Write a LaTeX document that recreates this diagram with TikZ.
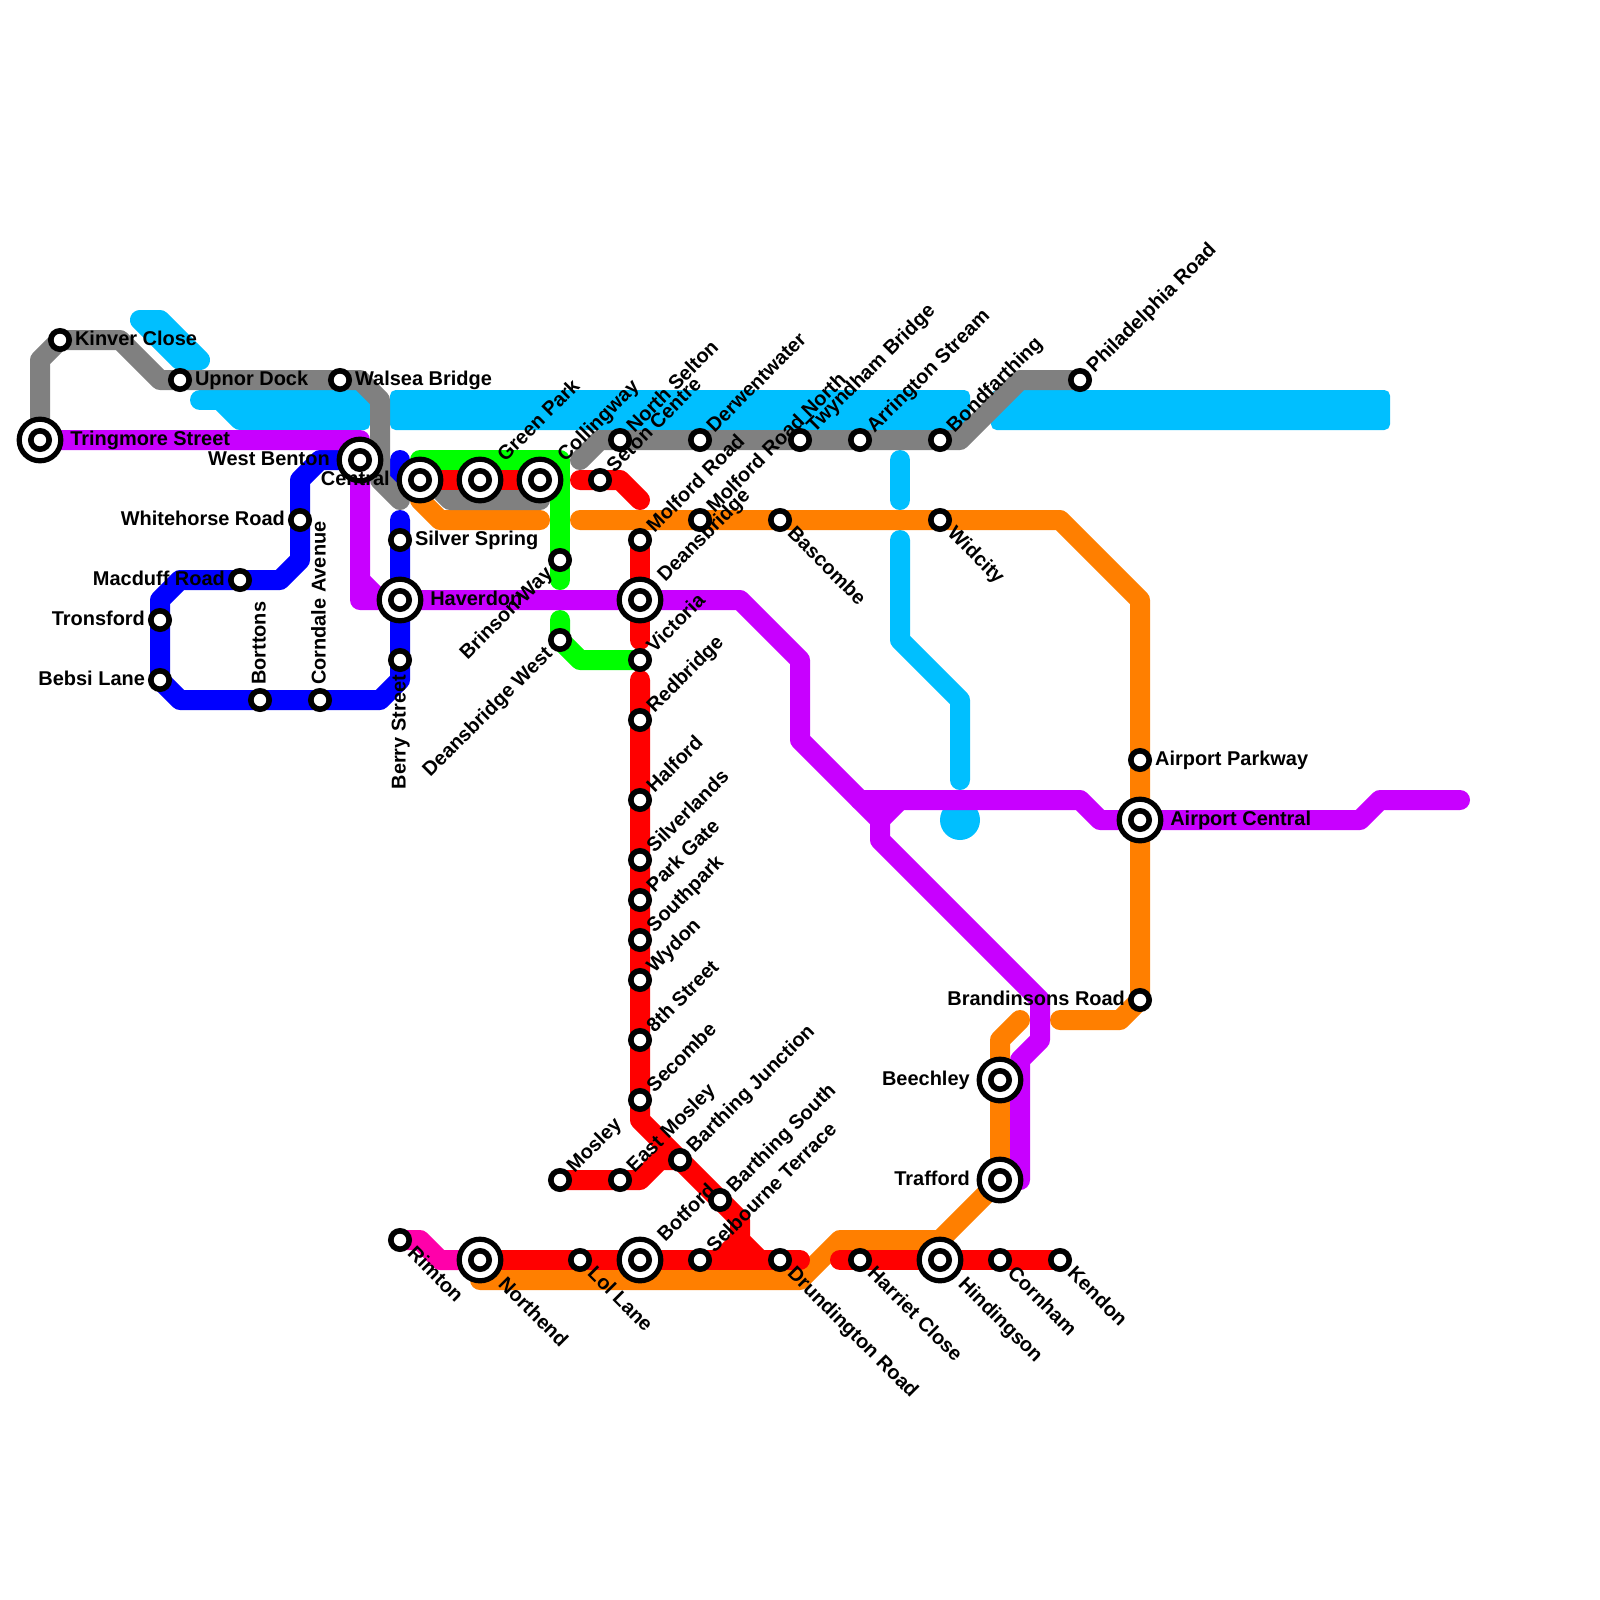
\documentclass[tikz,border=0pt]{standalone}
\usepackage{fontspec}
\setmainfont{Liberation Sans}
\usetikzlibrary{backgrounds}
\definecolor{linecyan}{RGB}{0, 191, 255}
\definecolor{linegray}{RGB}{128, 128, 128}
\definecolor{lineblue}{RGB}{0, 0, 255}
\definecolor{linegreen}{RGB}{0, 255, 0}
\definecolor{linered}{RGB}{255, 0, 0}
\definecolor{lineorange}{RGB}{255, 127, 0}
\definecolor{linepurple}{RGB}{200, 0, 255}
\definecolor{linepink}{RGB}{255, 0, 170}
\tikzset{
  route/.style={line width=0.5cm, line cap=round, line join=round},
  block/.style={fill=linecyan, rounded corners=0.14cm},
  stn/.style={circle, draw=black, fill=white, line width=0.14cm, minimum size=0.46cm, inner sep=0pt},
  stnbig/.style={circle, draw=black, fill=white, line width=0.13cm, minimum size=1.04cm, inner sep=0pt},
  lbl/.style={font=\bfseries\fontsize{14.2}{16}\selectfont, inner sep=0pt, text=black},
  lblr/.style={lbl, anchor=mid west, xshift=0.37cm, yshift=-0.05cm},
  lblrb/.style={lbl, anchor=mid west, xshift=0.75cm, yshift=-0.05cm},
  lbll/.style={lbl, anchor=mid east, xshift=-0.37cm, yshift=-0.05cm},
  lbllb/.style={lbl, anchor=mid east, xshift=-0.75cm, yshift=-0.05cm},
  lblur/.style={lbl, rotate=45, anchor=mid west, xshift=0.37cm, yshift=-0.05cm},
  lblurb/.style={lbl, rotate=45, anchor=mid west, xshift=0.75cm, yshift=-0.05cm},
  lblul/.style={lbl, rotate=45, anchor=mid east, xshift=-0.37cm, yshift=-0.05cm},
  lbldr/.style={lbl, rotate=-45, anchor=mid west, xshift=0.37cm, yshift=-0.05cm},
  lbldrb/.style={lbl, rotate=-45, anchor=mid west, xshift=0.75cm, yshift=-0.05cm},
  lblup/.style={lbl, rotate=90, anchor=mid west, xshift=0.37cm, yshift=-0.05cm},
  lbldn/.style={lbl, rotate=90, anchor=mid east, xshift=-0.37cm, yshift=-0.05cm}
}
\begin{document}
\begin{tikzpicture}[x=0.5cm, y=-0.5cm]
\useasboundingbox (0,0) rectangle (80,80);
% Small stations
\node[stn] (kinver) at (3,17) {};
\node[stn] (upnor) at (9,19) {};
\node[stn] (walsea) at (17,19) {};
\node[stn] (whitehorse) at (15,26) {};
\node[stn] (macduff) at (12,29) {};
\node[stn] (tronsford) at (8,31) {};
\node[stn] (bebsi) at (8,34) {};
\node[stn] (borttons) at (13,35) {};
\node[stn] (corndale) at (16,35) {};
\node[stn] (silverspring) at (20,27) {};
\node[stn] (berry) at (20,33) {};
\node[stn] (brinson) at (28,28) {};
\node[stn] (deanswest) at (28,32) {};
\node[stn] (seton) at (30,24) {};
\node[stn] (northselton) at (31,22) {};
\node[stn] (derwent) at (35,22) {};
\node[stn] (twyndham) at (40,22) {};
\node[stn] (arrington) at (43,22) {};
\node[stn] (bondfarthing) at (47,22) {};
\node[stn] (philadelphia) at (54,19) {};
\node[stn] (molford) at (32,27) {};
\node[stn] (molfordnorth) at (35,26) {};
\node[stn] (bascombe) at (39,26) {};
\node[stn] (widcity) at (47,26) {};
\node[stn] (victoria) at (32,33) {};
\node[stn] (redbridge) at (32,36) {};
\node[stn] (halford) at (32,40) {};
\node[stn] (silverlands) at (32,43) {};
\node[stn] (parkgate) at (32,45) {};
\node[stn] (southpark) at (32,47) {};
\node[stn] (wydon) at (32,49) {};
\node[stn] (eighth) at (32,52) {};
\node[stn] (secombe) at (32,55) {};
\node[stn] (barthingj) at (34,58) {};
\node[stn] (barthings) at (36,60) {};
\node[stn] (mosley) at (28,59) {};
\node[stn] (eastmosley) at (31,59) {};
\node[stn] (rimton) at (20,62) {};
\node[stn] (lollane) at (29,63) {};
\node[stn] (selbourne) at (35,63) {};
\node[stn] (drundington) at (39,63) {};
\node[stn] (harriet) at (43,63) {};
\node[stn] (cornham) at (50,63) {};
\node[stn] (kendon) at (53,63) {};
\node[stn] (brandinsons) at (57,50) {};
\node[stn] (airportpark) at (57,38) {};
% Interchanges
\node[stnbig] (tringmore) at (2,22) {};
\node[stn] (tringmorein) at (tringmore.center) {};
\node[stnbig] (westbenton) at (18,23) {};
\node[stn] (westbentonin) at (westbenton.center) {};
\node[stnbig] (central) at (21,24) {};
\node[stn] (centralin) at (central.center) {};
\node[stnbig] (greenpark) at (24,24) {};
\node[stn] (greenparkin) at (greenpark.center) {};
\node[stnbig] (collingway) at (27,24) {};
\node[stn] (collingwayin) at (collingway.center) {};
\node[stnbig] (haverdon) at (20,30) {};
\node[stn] (haverdonin) at (haverdon.center) {};
\node[stnbig] (deansbridge) at (32,30) {};
\node[stn] (deansbridgein) at (deansbridge.center) {};
\node[stnbig] (northend) at (24,63) {};
\node[stn] (northendin) at (northend.center) {};
\node[stnbig] (botford) at (32,63) {};
\node[stn] (botfordin) at (botford.center) {};
\node[stnbig] (hindingson) at (47,63) {};
\node[stn] (hindingsonin) at (hindingson.center) {};
\node[stnbig] (trafford) at (50,59) {};
\node[stn] (traffordin) at (trafford.center) {};
\node[stnbig] (beechley) at (50,54) {};
\node[stn] (beechleyin) at (beechley.center) {};
\node[stnbig] (airportcentral) at (57,41) {};
\node[stn] (airportcentralin) at (airportcentral.center) {};
% Lines
\begin{scope}[on background layer]
  % Cyan
  \draw[route, linecyan] (7,16) -- (8,16) -- (10,18) -- (9,18) -- cycle;
  \fill[linecyan] (7,16) -- (8,16) -- (10,18) -- (9,18) -- cycle;
  \draw[route, linecyan] (10,20) -- (18,20);
  \draw[route, linecyan] (11,20) -- (12,21) -- (18,21);
  \path[block] (13,19.5) rectangle (18.5,21.5);
  \path[block] (19.5,19.5) rectangle (48.5,21.5);
  \path[block] (49.55,19.5) rectangle (69.5,21.5);
  \draw[route, linecyan] (45,23) -- (45,25);
  \draw[route, linecyan] (45,27) -- (45,32) -- (48,35) -- (48,39);
  \fill[linecyan] (48,41) circle[radius=1];
  % Blue
  \draw[route, lineblue] (westbenton.center) -- (16,23) -- (15,24) -- (whitehorse.center) -- (15,28) -- (14,29) -- (macduff.center) -- (9,29) -- (8,30) -- (tronsford.center) -- (bebsi.center) -- (9,35) -- (borttons.center) -- (corndale.center) -- (19,35) -- (20,34) -- (berry.center) -- (haverdon.center) -- (silverspring.center) -- (20,26);
  \draw[route, lineblue] (20,23) -- (20,24) -- (central.center);
  % Orange
  \draw[route, lineorange] (central.center) -- (21,25) -- (22,26) -- (27,26);
  \draw[route, lineorange] (29,26) -- (molfordnorth.center) -- (bascombe.center) -- (widcity.center) -- (53,26) -- (57,30) -- (airportpark.center) -- (airportcentral.center) -- (brandinsons.center) -- (56,51) -- (53,51);
  \draw[route, lineorange] (51,51) -- (50,52) -- (beechley.center) -- (trafford.center) -- (47,62) -- (42,62) -- (40,64) -- (24,64) -- (northend.center);
  % Gray
  \draw[route, linegray] (tringmore.center) -- (2,18) -- (kinver.center) -- (6,17) -- (8,19) -- (upnor.center) -- (walsea.center) -- (18,19) -- (19,20) -- (19,24) -- (20,25);
  \draw[route, linegray] (central.center) -- (21.5,24) -- (22.5,25) -- (27,25) -- (collingway.center);
  \draw[route, linegray] (29,23) -- (30,22) -- (northselton.center) -- (derwent.center) -- (twyndham.center) -- (arrington.center) -- (bondfarthing.center) -- (48,22) -- (51,19) -- (philadelphia.center);
  % Green
  \draw[route, linegreen] (central.center) -- (21,23) -- (28,23) -- (brinson.center) -- (28,29);
  \draw[route, linegreen] (28,31) -- (deanswest.center) -- (29,33) -- (victoria.center);
  % Red
  \draw[route, linered] (central.center) -- (greenpark.center) -- (collingway.center);
  \draw[route, linered] (29,24) -- (seton.center) -- (31,24) -- (32,25);
  \draw[route, linered] (molford.center) -- (deansbridge.center) -- (32,32);
  \draw[route, linered] (32,34) -- (redbridge.center) -- (halford.center) -- (silverlands.center) -- (parkgate.center) -- (southpark.center) -- (wydon.center) -- (eighth.center) -- (secombe.center) -- (32,56) -- (barthingj.center) -- (barthings.center) -- (37,61) -- (37,62) -- (38,63);
  \draw[route, linered] (37,62) -- (36,63);
  \draw[route, linered] (mosley.center) -- (eastmosley.center) -- (32,59) -- (33,58) -- (barthingj.center);
  \draw[route, linered] (northend.center) -- (lollane.center) -- (botford.center) -- (selbourne.center) -- (drundington.center) -- (40,63);
  \draw[route, linered] (42,63) -- (harriet.center) -- (hindingson.center) -- (cornham.center) -- (kendon.center);
  % Purple
  \draw[route, linepurple] (tringmore.center) -- (18,22) -- (18,30) -- (haverdon.center) -- (deansbridge.center) -- (37,30) -- (40,33) -- (40,37) -- (44,41) -- (44,42) -- (52,50) -- (52,52) -- (51,53) -- (51,59);
  \draw[route, linepurple] (18,29) -- (19,30);
  \draw[route, linepurple] (43,40) -- (54,40) -- (55,41) -- (airportcentral.center) -- (68,41) -- (69,40) -- (73,40);
  \draw[route, linepurple] (44,41) -- (45,40);
  % Pink
  \draw[route, linepink] (rimton.center) -- (21,62) -- (22,63) -- (northend.center);
\end{scope}
% Labels
\node[lblr] (kinverlbl) at (kinver) {Kinver Close};
\node[lblr] (upnorlbl) at (upnor) {Upnor Dock};
\node[lblr] (walsealbl) at (walsea) {Walsea Bridge};
\node[lblr] (silverspringlbl) at (silverspring) {Silver Spring};
\node[lblr] (airportparklbl) at (airportpark) {Airport Parkway};
\node[lblrb] (tringmorelbl) at (tringmore) {Tringmore Street};
\node[lblrb] (haverdonlbl) at (haverdon) {Haverdon};
\node[lblrb] (airportcentrallbl) at (airportcentral) {Airport Central};
\node[lbll] (whitehorselbl) at (whitehorse) {Whitehorse Road};
\node[lbll] (macdufflbl) at (macduff) {Macduff Road};
\node[lbll] (tronsfordlbl) at (tronsford) {Tronsford};
\node[lbll] (bebsilbl) at (bebsi) {Bebsi Lane};
\node[lbll] (brandinsonslbl) at (brandinsons) {Brandinsons Road};
\node[lbllb] (westbentonlbl) at (westbenton) {West Benton};
\node[lbllb] (centrallbl) at (central) {Central};
\node[lbllb] (beechleylbl) at (beechley) {Beechley};
\node[lbllb] (traffordlbl) at (trafford) {Trafford};
\node[lblup] (borttonslbl) at (borttons) {Borttons};
\node[lblup] (corndalelbl) at (corndale) {Corndale Avenue};
\node[lbldn] (berrylbl) at (berry) {Berry Street};
\node[lblul] (brinsonlbl) at (brinson) {Brinson Way};
\node[lblul] (deanswestlbl) at (deanswest) {Deansbridge West};
\node[lblurb] (greenparklbl) at (greenpark) {Green Park};
\node[lblurb] (collingwaylbl) at (collingway) {Collingway};
\node[lblurb] (deansbridgelbl) at (deansbridge) {Deansbridge};
\node[lblurb] (botfordlbl) at (botford) {Botford};
\node[lblur] (setonlbl) at (seton) {Seton Centre};
\node[lblur] (northseltonlbl) at (northselton) {North Selton};
\node[lblur] (derwentlbl) at (derwent) {Derwentwater};
\node[lblur] (twyndhamlbl) at (twyndham) {Twyndham Bridge};
\node[lblur] (arringtonlbl) at (arrington) {Arrington Stream};
\node[lblur] (bondfarthinglbl) at (bondfarthing) {Bondfarthing};
\node[lblur] (philadelphialbl) at (philadelphia) {Philadelphia Road};
\node[lblur] (molfordlbl) at (molford) {Molford Road};
\node[lblur] (molfordnorthlbl) at (molfordnorth) {Molford Road North};
\node[lblur] (victorialbl) at (victoria) {Victoria};
\node[lblur] (redbridgelbl) at (redbridge) {Redbridge};
\node[lblur] (halfordlbl) at (halford) {Halford};
\node[lblur] (silverlandslbl) at (silverlands) {Silverlands};
\node[lblur] (parkgatelbl) at (parkgate) {Park Gate};
\node[lblur] (southparklbl) at (southpark) {Southpark};
\node[lblur] (wydonlbl) at (wydon) {Wydon};
\node[lblur] (eighthlbl) at (eighth) {8th Street};
\node[lblur] (secombelbl) at (secombe) {Secombe};
\node[lblur] (barthingjlbl) at (barthingj) {Barthing Junction};
\node[lblur] (barthingslbl) at (barthings) {Barthing South};
\node[lblur] (mosleylbl) at (mosley) {Mosley};
\node[lblur] (eastmosleylbl) at (eastmosley) {East Mosley};
\node[lblur] (selbournelbl) at (selbourne) {Selbourne Terrace};
\node[lbldr] (bascombelbl) at (bascombe) {Bascombe};
\node[lbldr] (widcitylbl) at (widcity) {Widcity};
\node[lbldr] (rimtonlbl) at (rimton) {Rimton};
\node[lbldr] (lollanelbl) at (lollane) {Lol Lane};
\node[lbldr] (drundingtonlbl) at (drundington) {Drundington Road};
\node[lbldr] (harrietlbl) at (harriet) {Harriet Close};
\node[lbldr] (cornhamlbl) at (cornham) {Cornham};
\node[lbldr] (kendonlbl) at (kendon) {Kendon};
\node[lbldrb] (northendlbl) at (northend) {Northend};
\node[lbldrb] (hindingsonlbl) at (hindingson) {Hindingson};
\end{tikzpicture}
\end{document}
